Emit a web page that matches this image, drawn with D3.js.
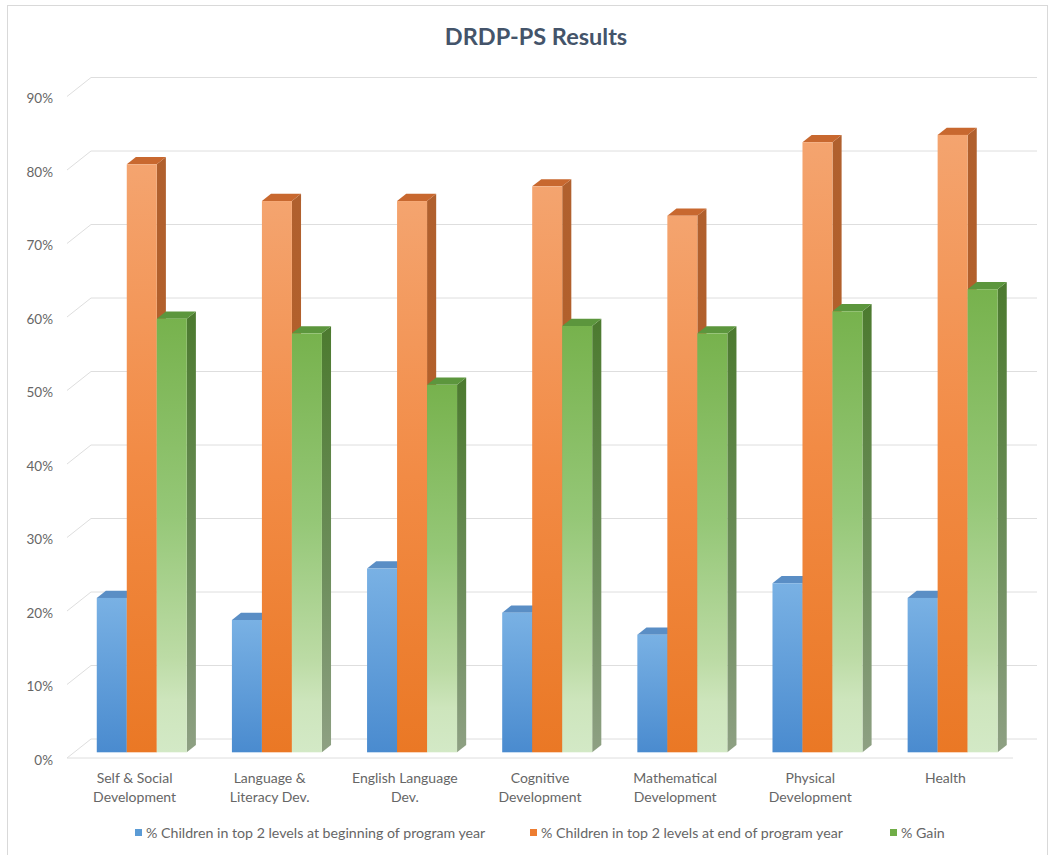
<!DOCTYPE html>
<html>
<head>
<meta charset="utf-8">
<title>DRDP-PS Results</title>
<style>
body { margin: 0; background: #fff; }
svg text { font-family: Lato, "Open Sans", sans-serif; }
.grid line { stroke: #dedede; stroke-width: 1; }
</style>
<script src="https://cdn.jsdelivr.net/npm/d3@7/dist/d3.min.js"></script>
</head>
<body>
<svg id="chart" width="1050" height="855"></svg>
<script>
// data (percent)
var categoryLines = [
    ["Self & Social", "Development"],
    ["Language &", "Literacy Dev."],
    ["English Language", "Dev."],
    ["Cognitive", "Development"],
    ["Mathematical", "Development"],
    ["Physical", "Development"],
    ["Health"]
];
var categories = categoryLines.map(function(l) { return l.join(" "); });
var beginValues = [21, 18, 25, 19, 16, 23, 21];
var endValues   = [80, 75, 75, 77, 73, 83, 84];
var gainValues  = [59, 57, 50, 58, 57, 60, 63];
var yTicks = [0, 10, 20, 30, 40, 50, 60, 70, 80, 90];
var seriesNames = [
    "% Children in top 2 levels at beginning of program year",
    "% Children in top 2 levels at end of program year",
    "% Gain"
];
var seriesKeys = ["blue", "orange", "green"];

var svg = d3.select("#chart");

// 3d box: front floor edge and the shift to the back wall
var floorY = 758, left = 67, right = 1013;
var depthX = 24, depthY = -19;
var barFront = 0.3, barBack = 0.68;   // bar position inside the depth

var x = d3.scaleBand().domain(categories).range([left, right]);
var y = d3.scaleLinear().domain([0, 90]).range([floorY, floorY - 0.9 * 735]);
var inner = d3.scaleBand().domain(seriesKeys).range([-45, 45]);

// gradients
var defs = svg.append("defs");
function grad(id, stops) {
    var g = defs.append("linearGradient").attr("id", id)
        .attr("x1", 0).attr("y1", 0).attr("x2", 0).attr("y2", 1);
    stops.forEach(function(s) {
        g.append("stop").attr("offset", s[0]).attr("stop-color", s[1]);
    });
}
grad("blue-front", [[0, "#79b1e4"], [1, "#4a8bcf"]]);
grad("blue-side", [[0, "#3f6f9f"], [1, "#3d6a98"]]);
grad("orange-front", [[0, "#f4a46f"], [0.5, "#f28b45"], [1, "#ea7825"]]);
grad("orange-side", [[0, "#b0602e"], [1, "#b85f25"]]);
grad("green-front", [[0, "#77b24d"], [0.45, "#95c777"], [0.78, "#bcdba5"], [0.88, "#cde5bc"], [1, "#d3e9c6"]]);
grad("green-side", [[0, "#4c7a2f"], [0.6, "#6f8f5e"], [1, "#8ea083"]]);
var topColor = { blue: "#5a8ec5", orange: "#c8682f", green: "#5c963d" };
var legendColor = { blue: "#5b9bd5", orange: "#ed7d31", green: "#70ad47" };

// chart area border
svg.append("rect").attr("x", 7.5).attr("y", 5.5).attr("width", 1040).attr("height", 870)
    .attr("fill", "none").attr("stroke", "#d9d9d9");

// title
svg.append("text").attr("x", 536).attr("y", 45).attr("text-anchor", "middle")
    .attr("font-size", "23.5px").attr("font-weight", "bold").attr("fill", "#44546a")
    .text("DRDP-PS Results");

// back wall gridlines and side wall diagonals
var grid = svg.append("g").attr("class", "grid");
grid.selectAll("line.back").data(yTicks).enter().append("line")
    .attr("x1", left + depthX).attr("x2", right + depthX)
    .attr("y1", function(d) { return y(d) + depthY; })
    .attr("y2", function(d) { return y(d) + depthY; });
grid.selectAll("line.side").data(yTicks).enter().append("line")
    .attr("x1", left).attr("x2", left + depthX)
    .attr("y1", function(d) { return y(d); })
    .attr("y2", function(d) { return y(d) + depthY; });
grid.append("line").attr("x1", left).attr("x2", right)
    .attr("y1", floorY).attr("y2", floorY);

// y axis labels
var yAxis = d3.axisLeft(y).tickValues(yTicks).tickSize(0).tickPadding(0)
    .tickFormat(function(d) { return d + "%"; });
var yg = svg.append("g").attr("transform", "translate(53,2)").call(yAxis);
yg.select(".domain").remove();
yg.selectAll("text").attr("font-size", "13.5px").attr("fill", "#666")
    .style("font-family", "Lato, sans-serif");

// bars
var bars = [];
categories.forEach(function(c, i) {
    [beginValues[i], endValues[i], gainValues[i]].forEach(function(v, j) {
        bars.push({ cat: c, key: seriesKeys[j], value: v });
    });
});

function pt(px, py) { return px + "," + py; }

var barG = svg.append("g").selectAll("g").data(bars).enter().append("g");
barG.each(function(d) {
    var g = d3.select(this);
    var fx = barFront * depthX, fy = barFront * depthY;
    var bx = barBack * depthX, by = barBack * depthY;
    var x0 = x(d.cat) + x.bandwidth() / 2 + inner(d.key) + fx;
    var x1 = x0 + inner.bandwidth();
    var yTop = y(d.value) + fy, yBot = y(0) + fy;
    var dx = bx - fx, dy = by - fy;
    // side face
    g.append("polygon")
        .attr("points", [pt(x1, yTop), pt(x1 + dx, yTop + dy), pt(x1 + dx, yBot + dy), pt(x1, yBot)].join(" "))
        .attr("fill", "url(#" + d.key + "-side)");
    // top face
    g.append("polygon")
        .attr("points", [pt(x0, yTop), pt(x0 + dx, yTop + dy), pt(x1 + dx, yTop + dy), pt(x1, yTop)].join(" "))
        .attr("fill", topColor[d.key]);
    // front face
    g.append("rect").attr("x", x0).attr("y", yTop)
        .attr("width", inner.bandwidth()).attr("height", yBot - yTop)
        .attr("fill", "url(#" + d.key + "-front)");
});

// category labels
var xAxis = d3.axisBottom(x).tickSize(0).tickFormat("");
var xg = svg.append("g").attr("transform", "translate(0," + floorY + ")").call(xAxis);
xg.select(".domain").remove();
xg.selectAll(".tick").each(function(d, i) {
    var t = d3.select(this).append("text").attr("text-anchor", "middle")
        .attr("font-size", "14px").attr("fill", "#666");
    categoryLines[i].forEach(function(line, k) {
        t.append("tspan").attr("x", 0).attr("y", 25 + k * 19).text(line);
    });
});

// legend
var legendX = [135, 530, 890];
var lg = svg.append("g").selectAll("g").data(seriesKeys).enter().append("g")
    .attr("transform", function(d, i) { return "translate(" + legendX[i] + ",833)"; });
lg.append("rect").attr("x", 0).attr("y", -4).attr("width", 7).attr("height", 7)
    .attr("fill", function(d) { return legendColor[d]; });
lg.append("text").attr("x", 11).attr("y", 4.5).attr("font-size", "14.2px").attr("fill", "#666")
    .text(function(d, i) { return seriesNames[i]; });
</script>
</body>
</html>
